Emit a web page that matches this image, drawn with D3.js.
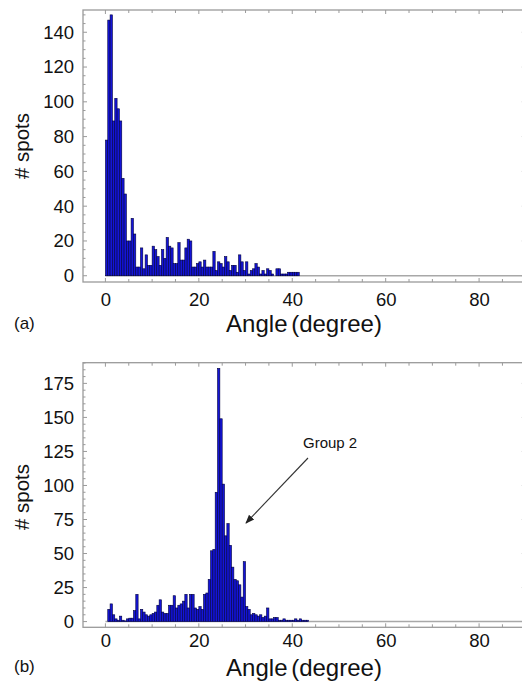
<!DOCTYPE html>
<html>
<head>
<meta charset="utf-8">
<script src="https://cdn.jsdelivr.net/npm/d3@7"></script>
<style>
  html, body { margin: 0; padding: 0; background: #fff; }
  svg { display: block; }
  text { font-family: "Liberation Sans", Arial, Helvetica, sans-serif; fill: #111; }
</style>
</head>
<body>
<svg id="chart" width="522" height="683"></svg>
<script>
// Histogram bin width in degrees
const binWidth = 0.5;

// (a) counts per 0.5 degree bin, starting at 0 degrees
const countsA = [
  78, 147, 150, 89, 102, 96, 89, 56, 47, 20,
  20, 33, 24, 5, 5, 16, 4, 12, 6, 6,
  17, 15, 11, 6, 15, 10, 22, 17, 16, 7,
  7, 19, 9, 9, 16, 21, 20, 5, 5, 7,
  8, 5, 9, 5, 5, 5, 14, 3, 8, 7,
  5, 11, 8, 3, 6, 6, 2, 12, 8, 3,
  8, 1, 3, 4, 7, 5, 1, 3, 1, 4,
  3, 1, 0, 4, 4, 1, 1, 1, 2, 2,
  2, 2, 2
];

// (b) counts per 0.5 degree bin, starting at 0 degrees
const countsB = [
  0, 9, 13, 5, 2, 1, 4, 1, 0.5, 2,
  2.5, 2.5, 8, 20, 2, 9, 7, 5, 4, 5,
  6, 7, 12, 16, 7, 6, 6, 12, 12, 19,
  10, 12, 13, 15, 20, 10, 20, 20, 10, 9,
  11, 9, 20, 21, 31, 52, 53, 95, 186, 149,
  101, 63, 72, 56, 40, 31, 30, 27, 18, 44,
  11, 9, 5, 6, 5, 4, 5, 3, 4, 10,
  2, 2, 3, 3, 1, 1, 2, 1, 1, 1,
  1, 2, 1, 2, 1, 1, 1
];

// Axis ticks
const xTicks = [0, 20, 40, 60, 80];
const yTicksA = [0, 20, 40, 60, 80, 100, 120, 140];
const yTicksB = [0, 25, 50, 75, 100, 125, 150, 175];

const svg = d3.select("#chart");
const frameColor = "#9a9a9a";
const barFill = "#1414d8";
const barEdge = "#00003c";

function drawPanel(opt) {
  const g = svg.append("g");
  const x = d3.scaleLinear().domain([-4.8, 90]).range([83, 525.8]);
  const y = d3.scaleLinear().domain(opt.yDomain).range([opt.bottom, opt.top]);
  const [x0, x1] = x.range();
  const [yb, yt] = y.range();

  // zero line under the bars
  g.append("line")
    .attr("x1", x(0)).attr("x2", x(90))
    .attr("y1", y(0)).attr("y2", y(0))
    .attr("stroke", "#a8a8a8").attr("stroke-width", 1.5);

  // bars
  g.append("g").selectAll("rect")
    .data(opt.counts)
    .join("rect")
    .attr("x", (d, i) => x(i * binWidth))
    .attr("width", (d, i) => x((i + 1) * binWidth) - x(i * binWidth))
    .attr("y", d => y(d))
    .attr("height", d => y(0) - y(d))
    .attr("fill", barFill)
    .attr("stroke", barEdge)
    .attr("stroke-width", 0.6);

  // frame
  g.append("rect")
    .attr("x", x0).attr("y", yt)
    .attr("width", x1 - x0).attr("height", yb - yt)
    .attr("fill", "none")
    .attr("stroke", frameColor).attr("stroke-width", 1.3);

  // inward ticks along the frame
  const xt = d3.range(0, 91, 5);
  const ticks = g.append("g").attr("stroke", frameColor).attr("stroke-width", 1);
  xt.forEach(v => {
    const len = v % 20 === 0 ? 4 : 3;
    ticks.append("line").attr("x1", x(v)).attr("x2", x(v)).attr("y1", yt).attr("y2", yt + len);
    ticks.append("line").attr("x1", x(v)).attr("x2", x(v)).attr("y1", yb).attr("y2", yb - len);
  });
  const yt5 = d3.range(0, opt.yDomain[1], 5);
  yt5.forEach(v => {
    const len = v % opt.yStep === 0 ? 4 : 2.5;
    ticks.append("line").attr("x1", x0).attr("x2", x0 + len).attr("y1", y(v)).attr("y2", y(v));
    ticks.append("line").attr("x1", x1).attr("x2", x1 - len).attr("y1", y(v)).attr("y2", y(v));
  });

  // tick labels
  const yAxis = d3.axisLeft(y).tickValues(opt.yTicks).tickSize(0).tickPadding(9);
  const ya = g.append("g").attr("transform", `translate(${x0},0)`).call(yAxis);
  ya.select(".domain").remove();
  ya.selectAll("text").style("font-size", "18.5px").attr("fill", "#111")
    .style("font-family", "'Liberation Sans', Arial, sans-serif");

  const xAxis = d3.axisBottom(x).tickValues(xTicks).tickSize(0).tickPadding(opt.xPad);
  const xa = g.append("g").attr("transform", `translate(0,${yb})`).call(xAxis);
  xa.select(".domain").remove();
  xa.selectAll("text").style("font-size", "18.5px").attr("fill", "#111")
    .style("font-family", "'Liberation Sans', Arial, sans-serif");

  // axis titles
  g.append("text")
    .attr("transform", `translate(29,${opt.yLabelY}) rotate(-90)`)
    .attr("text-anchor", "middle")
    .style("font-size", "20.5px")
    .text("# spots");

  g.append("text")
    .attr("x", 304).attr("y", opt.titleY)
    .attr("text-anchor", "middle")
    .style("font-size", "24px")
    .style("word-spacing", "-3px")
    .text("Angle (degree)");

  g.append("text")
    .attr("x", 14).attr("y", opt.tagY)
    .style("font-size", "17px")
    .text(opt.tag);

  return { g, x, y };
}

drawPanel({
  counts: countsA, yDomain: [-3.6, 152.8], top: 10, bottom: 282,
  yTicks: yTicksA, yStep: 20, yLabelY: 146, titleY: 332, tagY: 329, tag: "(a)", xPad: 11
});

drawPanel({
  counts: countsB, yDomain: [-4.2, 190.2], top: 362.7, bottom: 627.3,
  yTicks: yTicksB, yStep: 25, yLabelY: 497, titleY: 676, tagY: 672, tag: "(b)", xPad: 7
});

// annotation for the main peak
svg.append("defs").append("marker")
  .attr("id", "head")
  .attr("viewBox", "0 0 10 10")
  .attr("refX", 9).attr("refY", 5)
  .attr("markerWidth", 9).attr("markerHeight", 9)
  .attr("markerUnits", "userSpaceOnUse")
  .attr("orient", "auto")
  .append("path")
  .attr("d", "M0,1 L10,5 L0,9 Z")
  .attr("fill", "#222");

svg.append("line")
  .attr("x1", 308).attr("y1", 458)
  .attr("x2", 246).attr("y2", 523)
  .attr("stroke", "#333").attr("stroke-width", 1.1)
  .attr("marker-end", "url(#head)");

svg.append("text")
  .attr("x", 303).attr("y", 448)
  .style("font-size", "15px")
  .text("Group 2");
</script>
</body>
</html>
